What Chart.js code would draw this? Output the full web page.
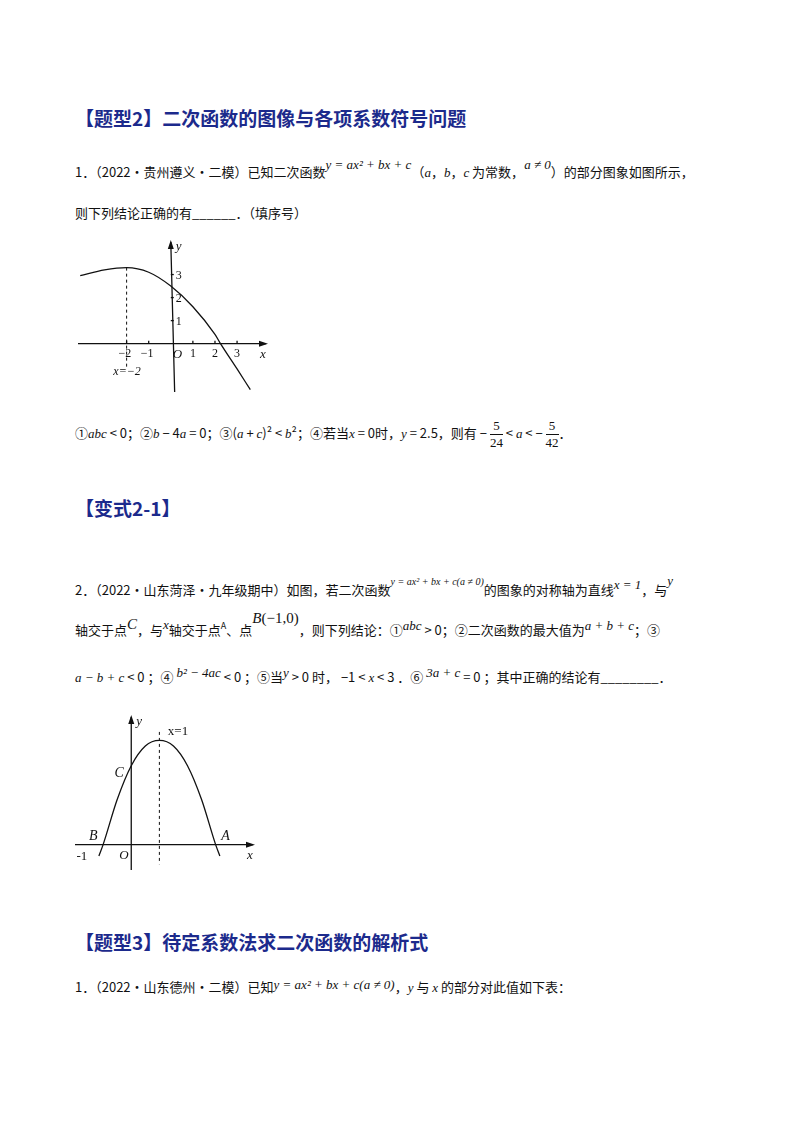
<!DOCTYPE html>
<html><head><meta charset="utf-8">
<script src="https://cdn.jsdelivr.net/npm/chart.js@4/dist/chart.umd.min.js"></script>
<style>
body{margin:0;width:800px;height:1132px;background:#fff;position:relative;font-family:"Noto Sans CJK SC",sans-serif;color:#111}
.t{position:absolute;white-space:nowrap;font-size:13px}
.h{position:absolute;font-size:19px;font-weight:bold;color:#1c2a8c;white-space:nowrap}
.m{font-family:"Liberation Serif",serif;font-style:italic;font-size:13px}
.box{position:absolute}
</style></head><body>
<div class="h" style="left:75px;top:104px">【题型2】二次函数的图像与各项系数符号问题</div>
<div class="t" style="left:75px;top:162px">1．（2022·贵州遵义·二模）已知二次函数<span class="m" style="position:relative;top:-8px">y = ax² + bx + c</span>（<span class="m">a</span>，<span class="m">b</span>，<span class="m">c</span> 为常数，<span class="m" style="position:relative;top:-8px">a ≠ 0</span>）的部分图象如图所示，</div>
<div class="t" style="left:75px;top:203px">则下列结论正确的有______．（填序号）</div>
<div class="box" style="left:78px;top:240px;width:190px;height:152px"><canvas id="c1"></canvas></div>
<div class="t" style="left:75px;top:418px">①<span class="m">abc</span> &lt; 0；②<span class="m">b</span> − 4<span class="m">a</span> = 0；③(<span class="m">a</span> + <span class="m">c</span>)² &lt; <span class="m">b</span>²；④若当<span class="m">x</span> = 0时，<span class="m">y</span> = 2.5，则有 − <span style="display:inline-block;vertical-align:middle;text-align:center;font-family:'Liberation Serif'"><span style="display:block;border-bottom:1px solid #111">5</span>24</span> &lt; <span class="m">a</span> &lt; − <span style="display:inline-block;vertical-align:middle;text-align:center;font-family:'Liberation Serif'"><span style="display:block;border-bottom:1px solid #111">5</span>42</span>．</div>
<div class="h" style="left:75px;top:494px">【变式2-1】</div>
<div class="t" style="left:75px;top:580px">2．（2022·山东菏泽·九年级期中）如图，若二次函数<span class="m" style="position:relative;top:-10px;font-size:10px">y = ax² + bx + c(a ≠ 0)</span>的图象的对称轴为直线<span class="m" style="position:relative;top:-6px">x = 1</span>，与<span class="m" style="position:relative;top:-10px">y</span></div>
<div class="t" style="left:75px;top:620px">轴交于点<span class="m" style="font-size:15px;position:relative;top:-6px">C</span>，与<span class="m" style="position:relative;top:-6px">x</span>轴交于点<span style="font-size:9px;position:relative;top:-6px">A</span>、点<span class="m" style="position:relative;top:-12px;font-size:15px">B</span><span style="position:relative;top:-12px;font-family:'Liberation Serif';font-size:15px">(−1,0)</span>，则下列结论：①<span class="m" style="position:relative;top:-5px">abc</span> &gt; 0；②二次函数的最大值为<span class="m" style="position:relative;top:-5px">a + b + c</span>；③</div>
<div class="t" style="left:75px;top:667px"><span class="m">a − b + c</span> &lt; 0 ；④ <span class="m" style="position:relative;top:-5px">b² − 4ac</span> &lt; 0 ；⑤当<span class="m" style="position:relative;top:-5px">y</span> &gt; 0 时， −1 &lt; <span class="m">x</span> &lt; 3 ．⑥ <span class="m" style="position:relative;top:-5px">3a + c</span> = 0 ；其中正确的结论有________．</div>
<div class="box" style="left:75px;top:715px;width:180px;height:155px"><canvas id="c2"></canvas></div>
<div class="h" style="left:75px;top:928px">【题型3】待定系数法求二次函数的解析式</div>
<div class="t" style="left:75px;top:977px">1．（2022·山东德州·二模）已知<span class="m" style="position:relative;top:-3px">y = ax² + bx + c(a ≠ 0)</span>，<span class="m">y</span> 与 <span class="m">x</span> 的部分对此值如下表：</div>
<script>
// graph 1: curve
const xs1 = [-4.1, -3, -2, -1, 0, 1, 2, 2.25, 3, 3.6];
const ys1 = [2.95, 3.2, 3.3, 3.1, 2.5, 1.6, 0.4, 0, -1.1, -2.0];
const xTicks1 = [-2, -1, 1, 2, 3];
const yTicks1 = [1, 2, 3];
// graph 2
const xs2 = [-1.15, -1, -0.5, 0, 0.5, 1, 1.5, 2, 2.5, 3, 3.15];
const ys2 = [-0.4, 0, 1.6, 2.8, 3.5, 3.7, 3.5, 2.8, 1.6, 0, -0.4];

function axesPlugin(opt) {
  return {
    id: 'axes',
    beforeDatasetsDraw(chart) {
      const {ctx, scales: {x, y}} = chart;
      const ox = x.getPixelForValue(0), oy = y.getPixelForValue(0);
      ctx.save();
      ctx.strokeStyle = '#111'; ctx.fillStyle = '#111'; ctx.lineWidth = 1.3;
      ctx.beginPath();
      ctx.moveTo(x.left, oy); ctx.lineTo(x.right - 2, oy);
      ctx.moveTo(ox + opt.tilt * (y.bottom - oy), y.bottom); ctx.lineTo(ox, y.top + 2);
      ctx.stroke();
      ctx.beginPath();
      ctx.moveTo(x.right, oy); ctx.lineTo(x.right - 9, oy - 3); ctx.lineTo(x.right - 9, oy + 3); ctx.fill();
      ctx.beginPath();
      ctx.moveTo(ox, y.top); ctx.lineTo(ox - 3, y.top + 9); ctx.lineTo(ox + 3, y.top + 9); ctx.fill();
      ctx.font = 'italic 13px "Liberation Serif"';
      ctx.fillText('x', x.right - 8, oy + 14);
      ctx.fillText('y', ox + 5, y.top + 10);
      ctx.fillText('O', ox + opt.oDx, oy + 14);
      ctx.font = '12px "Liberation Serif"';
      opt.xt.forEach(v => {
        const px = x.getPixelForValue(v);
        ctx.beginPath(); ctx.moveTo(px, oy); ctx.lineTo(px, oy - 3); ctx.stroke();
        ctx.fillText(v < 0 ? '−' + (-v) : String(v), px - (v < 0 ? 8 : 3), oy + 13);
      });
      opt.yt.forEach(v => {
        const py = y.getPixelForValue(v);
        ctx.beginPath(); ctx.moveTo(ox, py); ctx.lineTo(ox + 3, py); ctx.stroke();
        ctx.fillText(String(v), ox + 5, py + 4);
      });
      // dashed symmetry axis
      const sx = x.getPixelForValue(opt.sym);
      ctx.setLineDash([3, 3]); ctx.lineWidth = 1;
      ctx.beginPath(); ctx.moveTo(sx, y.getPixelForValue(opt.symTop)); ctx.lineTo(sx, y.getPixelForValue(opt.symBot)); ctx.stroke();
      ctx.setLineDash([]);
      opt.labels.forEach(l => {
        ctx.font = l.f;
        ctx.fillText(l.t, x.getPixelForValue(l.x), y.getPixelForValue(l.y));
      });
      ctx.restore();
    }
  };
}

function makeChart(id, xs, ys, xr, yr, opt) {
  new Chart(document.getElementById(id), {
    type: 'scatter',
    data: {datasets: [{data: xs.map((v, i) => ({x: v, y: ys[i]})), showLine: true, borderColor: '#111', borderWidth: 1.3, pointRadius: 0, cubicInterpolationMode: 'monotone', fill: false}]},
    options: {
      responsive: true, maintainAspectRatio: false, animation: false,
      layout: {padding: 0},
      plugins: {legend: {display: false}, tooltip: {enabled: false}},
      scales: {
        x: {type: 'linear', min: xr[0], max: xr[1], display: false},
        y: {type: 'linear', min: yr[0], max: yr[1], display: false}
      }
    },
    plugins: [axesPlugin(opt)]
  });
}

makeChart('c1', xs1, ys1, [-4.2, 4.4], [-2.1, 4.5], {
  xt: xTicks1, yt: yTicks1, tilt: 0.08, oDx: 2, sym: -2, symTop: 3.3, symBot: -1, sym2: 0,
  labels: [{t: 'x=−2', x: -2.6, y: -1.35, f: 'italic 12px "Liberation Serif"'}]
});
makeChart('c2', xs2, ys2, [-2.0, 4.4], [-0.9, 4.6], {
  xt: [], yt: [], tilt: 0, oDx: -12, sym: 1, symTop: 4.0, symBot: -0.7,
  labels: [
    {t: 'x=1', x: 1.3, y: 3.9, f: '13px "Liberation Serif"'},
    {t: 'C', x: -0.6, y: 2.4, f: 'italic 14px "Liberation Serif"'},
    {t: 'B', x: -1.5, y: 0.15, f: 'italic 14px "Liberation Serif"'},
    {t: 'A', x: 3.2, y: 0.15, f: 'italic 14px "Liberation Serif"'},
    {t: '-1', x: -1.95, y: -0.55, f: '13px "Liberation Serif"'}
  ]
});
</script>
</body></html>
